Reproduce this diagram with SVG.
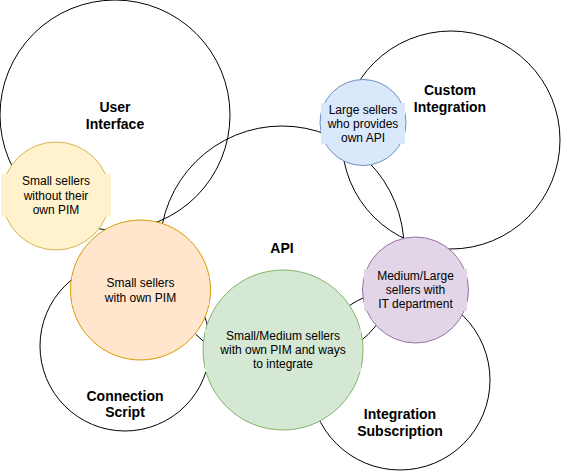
<svg xmlns="http://www.w3.org/2000/svg" width="561" height="471" viewBox="0 0 561 471">
<style>
.big{fill:none;stroke:#000;stroke-width:1}
.lbl{font-family:"Liberation Sans",Arial,Helvetica,sans-serif;font-size:14px;font-weight:bold;fill:#000;text-anchor:middle}
.txt{font-family:"Liberation Sans",Arial,Helvetica,sans-serif;font-size:12px;fill:#000;text-anchor:middle}
.yel{fill:#fff2cc;stroke:#d6b656}
.yelb{fill:#fff2cc}
.ora{fill:#ffe6cc;stroke:#d79b00}
.orab{fill:#ffe6cc}
.grn{fill:#d5e8d4;stroke:#82b366}
.grnb{fill:#d5e8d4}
.blu{fill:#dae8fc;stroke:#6c8ebf}
.blub{fill:#dae8fc}
.pur{fill:#e1d5e7;stroke:#9673a6}
.purb{fill:#e1d5e7}
</style>
<rect x="0" y="0" width="561" height="471" fill="#fff"/>
<g id="user-interface">
<circle class="big" cx="115" cy="115" r="115"/>
<text class="lbl" x="115" y="112">User</text>
<text class="lbl" x="115" y="129">Interface</text>
</g>
<g id="custom-integration">
<circle class="big" cx="451" cy="140" r="109"/>
<text class="lbl" x="450" y="95">Custom</text>
<text class="lbl" x="450" y="112">Integration</text>
</g>
<g id="api">
<circle class="big" cx="282" cy="248" r="122"/>
<text class="lbl" x="282" y="253">API</text>
</g>
<g id="connection-script">
<circle class="big" cx="125" cy="346" r="85"/>
<text class="lbl" x="125" y="401">Connection</text>
<text class="lbl" x="125" y="417">Script</text>
</g>
<g id="integration-subscription">
<circle class="big" cx="400" cy="380" r="90"/>
<text class="lbl" x="400" y="419">Integration</text>
<text class="lbl" x="400" y="436">Subscription</text>
</g>
<g id="connectors"></g>
<g id="small-sellers-without-pim">
<circle class="yel" cx="56" cy="196" r="54"/>
<rect class="yelb" x="1" y="174" width="110" height="43"/>
<text class="txt" x="56" y="185">Small sellers</text>
<text class="txt" x="56" y="199.5">without their</text>
<text class="txt" x="56" y="214">own PIM</text>
</g>
<g id="small-sellers-own-pim">
<circle class="ora" cx="140.5" cy="290" r="70"/>
<rect class="orab" x="72" y="276" width="137" height="29"/>
<text class="txt" x="140.5" y="287">Small sellers</text>
<text class="txt" x="140.5" y="301.5">with own PIM</text>
</g>
<g id="small-medium-sellers">
<circle class="grn" cx="283" cy="350" r="80"/>
<rect class="grnb" x="205" y="329" width="156" height="43"/>
<text class="txt" x="283" y="340">Small/Medium sellers</text>
<text class="txt" x="283" y="354">with own PIM and ways</text>
<text class="txt" x="283" y="368">to integrate</text>
</g>
<g id="large-sellers-api">
<circle class="blu" cx="363" cy="122.5" r="43"/>
<rect class="blub" x="321" y="103" width="84" height="41"/>
<text class="txt" x="363" y="114">Large sellers</text>
<text class="txt" x="363" y="128">who provides</text>
<text class="txt" x="363" y="142">own API</text>
</g>
<g id="medium-large-sellers-it">
<circle class="pur" cx="415.5" cy="290" r="53"/>
<rect class="purb" x="364" y="269" width="103" height="42"/>
<text class="txt" x="415.5" y="280">Medium/Large</text>
<text class="txt" x="415.5" y="294">sellers with</text>
<text class="txt" x="415.5" y="308">IT department</text>
</g>
</svg>
